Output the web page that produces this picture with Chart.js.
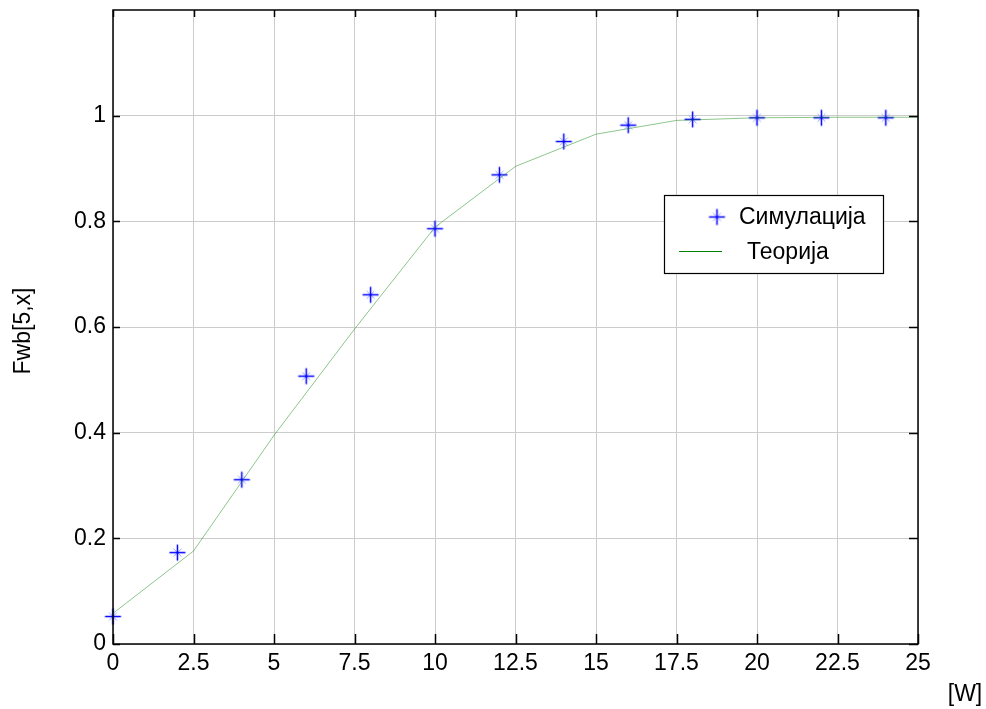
<!DOCTYPE html>
<html>
<head>
<meta charset="utf-8">
<script src="https://cdn.jsdelivr.net/npm/chart.js@4/dist/chart.umd.min.js"></script>
<style>
  html, body { margin: 0; padding: 0; background: #fff; }
  #wrap { width: 986px; height: 709px; position: relative; }
</style>
</head>
<body>
<div id="wrap"><canvas id="fwbChart"></canvas></div>
<script>
// simulation points (every 2 windows)
const simX = [0, 2, 4, 6, 8, 10, 12, 14, 16, 18, 20, 22, 24];
const simY = [0.052, 0.173, 0.311, 0.507, 0.661, 0.786, 0.888, 0.951, 0.982, 0.993, 0.996, 0.996, 0.996];

// theory curve
const theoryX = [0, 2.5, 5, 7.5, 10, 12.5, 15, 17.5, 20, 22.5, 25];
const theoryY = [0.058, 0.176, 0.395, 0.596, 0.789, 0.904, 0.965, 0.991, 0.996, 0.997, 0.997];

const xTicks = [0, 2.5, 5, 7.5, 10, 12.5, 15, 17.5, 20, 22.5, 25];
const yTicks = [0, 0.2, 0.4, 0.6, 0.8, 1];

const FONT = '"Liberation Sans", Arial, sans-serif';
const FS = 23;

// matlab-ish '*' marker: strong plus, faint diagonals
function makeMarker() {
  const c = document.createElement('canvas');
  c.width = 19; c.height = 19;
  const g = c.getContext('2d');
  g.strokeStyle = '#a0a6ff';
  g.lineWidth = 1;
  g.beginPath();
  g.moveTo(5.5, 5.5); g.lineTo(13.5, 13.5);
  g.moveTo(13.5, 5.5); g.lineTo(5.5, 13.5);
  g.stroke();
  g.strokeStyle = '#0000ff';
  g.lineWidth = 1.5;
  g.beginPath();
  g.moveTo(1.5, 9.5); g.lineTo(17.5, 9.5);
  g.moveTo(9.5, 1.5); g.lineTo(9.5, 17.5);
  g.stroke();
  return c;
}
const marker = makeMarker();

const frame = {
  id: 'frame',
  afterDraw(chart) {
    const ctx = chart.ctx;
    const a = chart.chartArea;
    const xs = chart.scales.x, ys = chart.scales.y;
    ctx.save();
    // box
    ctx.strokeStyle = '#000';
    ctx.lineWidth = 1.5;
    ctx.strokeRect(a.left, a.top, a.right - a.left, a.bottom - a.top);
    // inward tick marks on all four sides
    ctx.beginPath();
    xTicks.forEach(v => {
      const px = Math.round(xs.getPixelForValue(v)) + 0.5;
      ctx.moveTo(px, a.bottom); ctx.lineTo(px, a.bottom - 10);
      ctx.moveTo(px, a.top); ctx.lineTo(px, a.top + 7);
    });
    yTicks.forEach(v => {
      const py = Math.round(ys.getPixelForValue(v)) + 0.5;
      ctx.moveTo(a.left, py); ctx.lineTo(a.left + 7, py);
      ctx.moveTo(a.right, py); ctx.lineTo(a.right - 9, py);
    });
    ctx.stroke();

    // axis titles
    ctx.fillStyle = '#000';
    ctx.font = FS + 'px ' + FONT;
    ctx.textAlign = 'center';
    ctx.textBaseline = 'middle';
    ctx.fillText('[W]', 965, 695);
    ctx.save();
    ctx.translate(24, 331);
    ctx.rotate(-Math.PI / 2);
    ctx.fillText('Fwb[5,x]', 0, 0);
    ctx.restore();

    // legend box inside plot
    const bx = a.right - 254, by = a.top + 185, bw = 219, bh = 78;
    ctx.fillStyle = '#fff';
    ctx.fillRect(bx, by, bw, bh);
    ctx.strokeStyle = '#000';
    ctx.lineWidth = 1.2;
    ctx.strokeRect(bx + 0.5, by + 0.5, bw, bh);
    ctx.drawImage(marker, bx + 53 - 9.5, by + 22 - 9.5);
    ctx.strokeStyle = '#008000';
    ctx.lineWidth = 1;
    ctx.beginPath();
    ctx.moveTo(bx + 15, by + 56.5); ctx.lineTo(bx + 58, by + 56.5);
    ctx.stroke();
    ctx.fillStyle = '#000';
    ctx.textAlign = 'left';
    ctx.fillText('Симулација', bx + 75, by + 23);
    ctx.fillText('Теорија', bx + 83, by + 58);
    ctx.restore();
  }
};

const ctx = document.getElementById('fwbChart').getContext('2d');

new Chart(ctx, {
  type: 'scatter',
  data: {
    datasets: [
      {
        label: 'Теорија',
        data: theoryX.map((x, i) => ({ x: x, y: theoryY[i] })),
        showLine: true,
        borderColor: 'rgba(0,128,0,0.45)',
        borderWidth: 1,
        pointRadius: 0,
        fill: false
      },
      {
        label: 'Симулација',
        data: simX.map((x, i) => ({ x: x, y: simY[i] })),
        showLine: false,
        pointStyle: marker,
        pointRadius: 9,
        clip: false
      }
    ]
  },
  options: {
    responsive: true,
    maintainAspectRatio: false,
    animation: false,
    layout: { padding: { top: 9, right: 68, left: 0, bottom: 0 } },
    plugins: {
      legend: { display: false },
      title: { display: false },
      tooltip: { enabled: false }
    },
    scales: {
      x: {
        type: 'linear',
        min: 0,
        max: 25,
        afterBuildTicks: s => { s.ticks = xTicks.map(v => ({ value: v })); },
        afterFit: s => { s.height = 65; s.paddingLeft = 0; s.paddingRight = 0; },
        border: { display: false },
        grid: { color: '#cccccc', borderDash: [1, 1], drawTicks: false, lineWidth: 1 },
        ticks: {
          color: '#000',
          font: { family: FONT, size: FS },
          padding: 6,
          maxRotation: 0,
          callback: v => String(v)
        }
      },
      y: {
        type: 'linear',
        min: 0,
        max: 1.2,
        afterBuildTicks: s => { s.ticks = yTicks.map(v => ({ value: v })); },
        afterFit: s => { s.width = 113; s.paddingTop = 0; s.paddingBottom = 0; },
        border: { display: false },
        grid: { color: '#cccccc', borderDash: [1, 1], drawTicks: false, lineWidth: 1 },
        ticks: {
          color: '#000',
          font: { family: FONT, size: FS },
          padding: 7,
          callback: v => String(Math.round(v * 10) / 10)
        }
      }
    }
  },
  plugins: [frame]
});
</script>
</body>
</html>
